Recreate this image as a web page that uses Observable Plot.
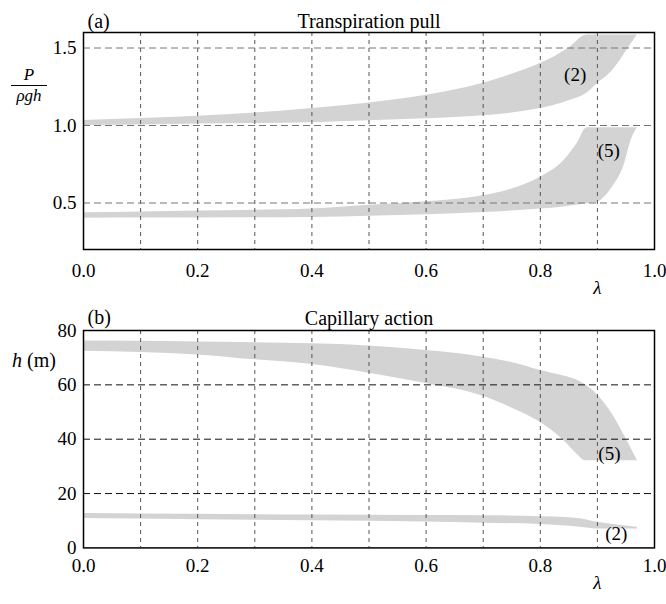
<!DOCTYPE html>
<html>
<head>
<meta charset="utf-8">
<script src="https://cdn.jsdelivr.net/npm/d3@7"></script>
<script src="https://cdn.jsdelivr.net/npm/@observablehq/plot@0.6"></script>
<style>
  html, body { margin: 0; padding: 0; background: #fff; }
  #wrap { position: relative; width: 666px; height: 604px; font-family: "Liberation Serif", "Times New Roman", serif; }
  #wrap svg { display: block; font-family: "Liberation Serif", "Times New Roman", serif !important; font-size: 19px !important; }
  #wrap svg text { font-family: "Liberation Serif", "Times New Roman", serif !important; }
  .ylab { position: absolute; color: #000; }
</style>
</head>
<body>
<div id="wrap">
  <div class="ylab" style="left:11px; top:65px; width:36px; text-align:center; font-style:italic; font-size:17px;">
    <div style="line-height:20px; height:20px; border-bottom:1px solid #000;">P</div>
    <div style="line-height:20px; height:20px;">ρgh</div>
  </div>
  <div class="ylab" style="left:12px; top:350px; font-size:20px; line-height:20px; white-space:nowrap;"><i>h</i> (m)</div>
</div>
<script>
// ---------- data ----------
const titleA = "Transpiration pull";
const titleB = "Capillary action";
const tagA = "(a)";
const tagB = "(b)";
const xAxisLabel = "λ";

const xTickValues = [0, 0.2, 0.4, 0.6, 0.8, 1.0];
const xGridValues = [0.1, 0.2, 0.3, 0.4, 0.5, 0.6, 0.7, 0.8, 0.9];
const aYTicks = [0.5, 1.0, 1.5];
const bYTicks = [0, 20, 40, 60, 80];
const bYGrid = [20, 40, 60];

// Panel (a), band (2)
const a2Lambda = [0, 0.1, 0.2, 0.3, 0.4, 0.5, 0.6, 0.7, 0.75, 0.8, 0.825, 0.85, 0.882, 0.9, 0.92, 0.94, 0.956, 0.97];
const a2Lower  = [1.0, 1.004, 1.009, 1.013, 1.018, 1.03, 1.043, 1.063, 1.08, 1.11, 1.13, 1.16, 1.21, 1.27, 1.33, 1.42, 1.51, 1.584];
const a2Upper  = [1.032, 1.045, 1.06, 1.08, 1.11, 1.145, 1.195, 1.272, 1.33, 1.40, 1.444, 1.50, 1.584, 1.584, 1.584, 1.584, 1.584, 1.584];

// Panel (a), band (5)
const a5Lambda = [0, 0.1, 0.2, 0.3, 0.4, 0.5, 0.6, 0.7, 0.75, 0.8, 0.841, 0.864, 0.882, 0.9, 0.913, 0.926, 0.9475, 0.959, 0.97];
const a5Lower  = [0.402, 0.403, 0.404, 0.405, 0.407, 0.415, 0.425, 0.439, 0.448, 0.461, 0.475, 0.485, 0.495, 0.504, 0.54, 0.601, 0.752, 0.903, 0.985];
const a5Upper  = [0.437, 0.442, 0.448, 0.454, 0.461, 0.485, 0.508, 0.547, 0.59, 0.666, 0.773, 0.88, 0.985, 0.985, 0.985, 0.985, 0.985, 0.985, 0.985];

// Panel (b), band (5)
const b5Lambda = [0, 0.1, 0.2, 0.3, 0.4, 0.5, 0.6, 0.7, 0.75, 0.8, 0.841, 0.864, 0.879, 0.9, 0.926, 0.9475, 0.97];
const b5Upper  = [76.1, 76.0, 75.8, 75.5, 75.1, 74.3, 72.6, 70.2, 68.2, 65.3, 63.3, 61.8, 60.0, 56.3, 49.3, 41.3, 32.1];
const b5Lower  = [72.4, 71.9, 71.0, 69.2, 67.5, 64.3, 60.5, 55.8, 51.5, 46.2, 39.5, 34.6, 32.1, 32.1, 32.1, 32.1, 32.1];

// Panel (b), band (2)
const b2Lambda = [0, 0.2, 0.4, 0.6, 0.7, 0.8, 0.85, 0.87, 0.9, 0.93, 0.97];
const b2Upper  = [12.7, 12.4, 12.1, 11.9, 11.8, 11.5, 11.1, 10.7, 9.4, 8.5, 7.6];
const b2Lower  = [10.8, 10.4, 10.0, 9.5, 9.1, 8.6, 8.0, 7.6, 7.0, 7.0, 7.0];

// Band labels
const aLabelText = ["(2)", "(5)"];
const aLabelX = [0.861, 0.92];
const aLabelY = [1.325, 0.838];
const bLabelText = ["(5)", "(2)"];
const bLabelX = [0.921, 0.933];
const bLabelY = [34.6, 5.2];

// ---------- build ----------
const band = (lams, lo, hi) => lams.map((x, i) => ({x, y1: lo[i], y2: hi[i]}));
const labels = (t, xs, ys) => t.map((text, i) => ({text, x: xs[i], y: ys[i]}));
const fmt1 = d3.format(".1f");
const baseStyle = {fontFamily: "'Liberation Serif', 'Times New Roman', serif", fontSize: "19px", color: "black", background: "white", overflow: "visible"};
const fillGray = "#d3d3d3";

const plotA = Plot.plot({
  width: 666, height: 300,
  marginLeft: 83, marginRight: 12, marginTop: 32, marginBottom: 51,
  style: baseStyle,
  x: {domain: [0, 1], ticks: xTickValues, tickFormat: fmt1, tickSize: 0, tickPadding: 14, label: null},
  y: {domain: [0.2, 1.6], ticks: aYTicks, tickFormat: fmt1, tickSize: 0, tickPadding: 7, label: null},
  marks: [
    Plot.areaY(band(a2Lambda, a2Lower, a2Upper), {x: "x", y1: "y1", y2: "y2", fill: fillGray, curve: "monotone-x"}),
    Plot.areaY(band(a5Lambda, a5Lower, a5Upper), {x: "x", y1: "y1", y2: "y2", fill: fillGray, curve: "monotone-x"}),
    Plot.ruleX(xGridValues, {stroke: "#555", strokeDasharray: "4,4"}),
    Plot.ruleY(aYTicks, {stroke: "#777", strokeDasharray: "7,4"}),
    Plot.frame({stroke: "black", strokeWidth: 1.5}),
    Plot.text(labels(aLabelText, aLabelX, aLabelY), {x: "x", y: "y", text: "text", fontSize: 19}),
    Plot.text([tagA], {text: d => d, frameAnchor: "top-left", textAnchor: "start", dx: 4, dy: -19, fontSize: 20}),
    Plot.text([titleA], {text: d => d, frameAnchor: "top", dy: -19, fontSize: 20}),
    Plot.text([{x: 0.9, t: xAxisLabel}], {x: "x", text: "t", frameAnchor: "bottom", dy: 44, fontSize: 19, fontStyle: "italic"})
  ]
});

const plotB = Plot.plot({
  width: 666, height: 304,
  marginLeft: 83, marginRight: 12, marginTop: 30, marginBottom: 56.6,
  style: baseStyle,
  x: {domain: [0, 1], ticks: xTickValues, tickFormat: fmt1, tickSize: 0, tickPadding: 10.5, label: null},
  y: {domain: [0, 80], ticks: bYTicks, tickSize: 0, tickPadding: 7, label: null},
  marks: [
    Plot.areaY(band(b5Lambda, b5Lower, b5Upper), {x: "x", y1: "y1", y2: "y2", fill: fillGray, curve: "monotone-x"}),
    Plot.areaY(band(b2Lambda, b2Lower, b2Upper), {x: "x", y1: "y1", y2: "y2", fill: fillGray, curve: "monotone-x"}),
    Plot.ruleX(xGridValues, {stroke: "#555", strokeDasharray: "4,4"}),
    Plot.ruleY(bYGrid, {stroke: "#111", strokeDasharray: "7,4"}),
    Plot.frame({stroke: "black", strokeWidth: 1.5}),
    Plot.text(labels(bLabelText, bLabelX, bLabelY), {x: "x", y: "y", text: "text", fontSize: 19}),
    Plot.text([tagB], {text: d => d, frameAnchor: "top-left", textAnchor: "start", dx: 4, dy: -21, fontSize: 20}),
    Plot.text([titleB], {text: d => d, frameAnchor: "top", dy: -20, fontSize: 20}),
    Plot.text([{x: 0.9, t: xAxisLabel}], {x: "x", text: "t", frameAnchor: "bottom", dy: 41, fontSize: 19, fontStyle: "italic"})
  ]
});

const wrap = document.getElementById("wrap");
wrap.insertBefore(plotB, wrap.firstChild);
wrap.insertBefore(plotA, wrap.firstChild);
</script>
</body>
</html>
